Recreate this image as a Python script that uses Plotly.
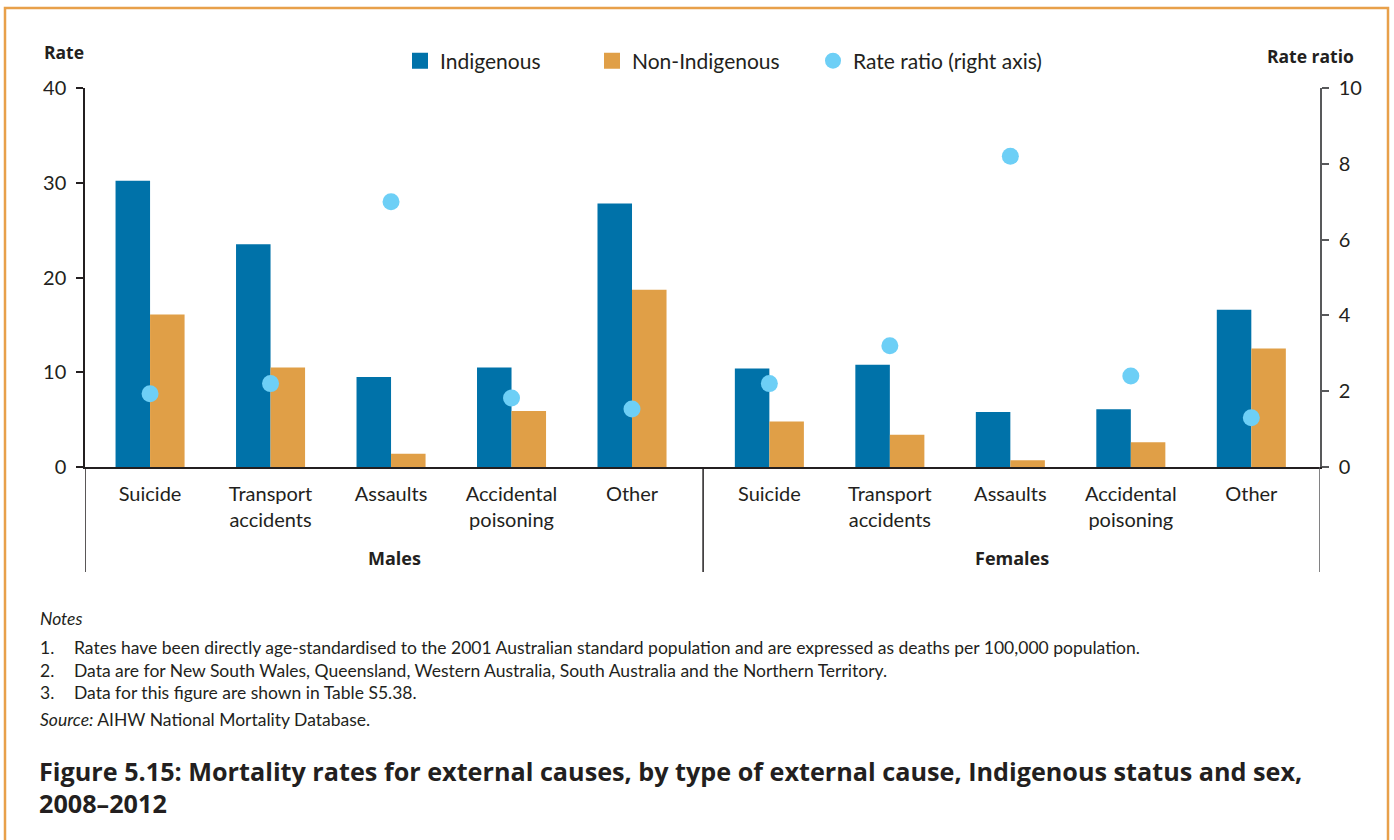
import plotly.graph_objects as go

# ---------------- data ----------------
groups = ["Males", "Females"]
causes = ["Suicide", "Transport<br>accidents", "Assaults", "Accidental<br>poisoning", "Other"]
indigenous_males = [30.2, 23.5, 9.5, 10.5, 27.8]
indigenous_females = [10.4, 10.8, 5.8, 6.1, 16.6]
non_indigenous_males = [16.1, 10.5, 1.4, 5.9, 18.7]
non_indigenous_females = [4.8, 3.4, 0.7, 2.6, 12.5]
ratio_males = [1.93, 2.2, 7.0, 1.82, 1.53]
ratio_females = [2.2, 3.2, 8.2, 2.4, 1.3]
left_ticks = [0, 10, 20, 30, 40]
right_ticks = [0, 2, 4, 6, 8, 10]

# ---------------- style ----------------
FONT = "Lato"
BFONT = "Open Sans"
C_IND = "#0072A9"
C_NON = "#E09F47"
C_RATIO = "#6DCFF6"
C_BORDER = "#E8A04A"
C_TEXT = "#231F20"
C_AXIS = "#231F20"
C_AXIS_R = "#58595B"
W, H = 1394, 840
ML, MR, MT, MB = 85, 74, 88, 373
PW, PH = W - ML - MR, H - MT - MB
GROUP_SHIFT = 5.14   # female group starts after a small gap
X_LEFT, X_RIGHT, X_DIV = -0.54, 9.71, 4.59


def px2x(px):
    return (px - ML) / PW


def py2y(py):
    return (H - MB - py) / PH


xs = [i for i in range(len(causes))] + [GROUP_SHIFT + i for i in range(len(causes))]
labels = causes + causes
ind = indigenous_males + indigenous_females
non = non_indigenous_males + non_indigenous_females
ratio = ratio_males + ratio_females

fig = go.Figure()
fig.add_trace(go.Bar(x=xs, y=ind, name="Indigenous", showlegend=False,
                     marker=dict(color=C_IND, line=dict(width=0))))
fig.add_trace(go.Bar(x=xs, y=non, name="Non-Indigenous", showlegend=False,
                     marker=dict(color=C_NON, line=dict(width=0))))
fig.add_trace(go.Scatter(x=xs, y=ratio, name="Rate ratio (right axis)", mode="markers", yaxis="y2",
                         legend="legend3", marker=dict(color=C_RATIO, size=17, line=dict(width=0))))
# legend swatches (square keys like the original)
fig.add_trace(go.Scatter(x=[None], y=[None], name="Indigenous", mode="markers", legend="legend",
                         marker=dict(symbol="square", color=C_IND, size=17, line=dict(width=0))))
fig.add_trace(go.Scatter(x=[None], y=[None], name="Non-Indigenous", mode="markers", legend="legend2",
                         marker=dict(symbol="square", color=C_NON, size=17, line=dict(width=0))))

leg_common = dict(orientation="h", xanchor="left", y=py2y(61), yanchor="middle",
                  font=dict(size=21, family=FONT, color=C_TEXT), bgcolor="rgba(0,0,0,0)")

fig.update_layout(
    width=W, height=H,
    margin=dict(l=ML, r=MR, t=MT, b=MB, pad=0),
    paper_bgcolor="white", plot_bgcolor="white",
    font=dict(family=FONT, size=20, color=C_TEXT),
    barmode="group", bargap=0.427, bargroupgap=0,
    showlegend=True,
    legend=dict(x=px2x(400), **leg_common),
    legend2=dict(x=px2x(592), **leg_common),
    legend3=dict(x=px2x(813), **leg_common),
    xaxis=dict(range=[X_LEFT, X_RIGHT], tickmode="array", tickvals=xs, ticktext=labels,
               showgrid=False, zeroline=False, showline=True, linecolor=C_AXIS, linewidth=1.5,
               ticks="", ticklabelstandoff=8, tickfont=dict(size=20, family=FONT)),
    yaxis=dict(range=[0, 40], tickmode="array", tickvals=left_ticks, showgrid=False, zeroline=False,
               showline=True, linecolor=C_AXIS, linewidth=1.5, ticks="outside", ticklen=7,
               tickcolor=C_AXIS, tickwidth=1.5, ticklabelstandoff=6, tickfont=dict(size=20, family=FONT)),
    yaxis2=dict(range=[0, 10], tickmode="array", tickvals=right_ticks, overlaying="y", side="right",
                showgrid=False, zeroline=False, showline=True, linecolor=C_AXIS_R, linewidth=1.5,
                ticks="outside", ticklen=7, tickcolor=C_AXIS_R, tickwidth=1.5, ticklabelstandoff=6,
                tickfont=dict(size=20, family=FONT)),
)

# dividers below the axis
for xv, col in [(X_LEFT, C_AXIS), (X_DIV, C_AXIS), (X_RIGHT, C_AXIS_R)]:
    fig.add_shape(type="line", xref="x", yref="paper", x0=xv, x1=xv, y0=0, y1=py2y(572),
                  line=dict(color=col, width=1.5), layer="above")

# outer border
fig.add_shape(type="rect", xref="paper", yref="paper", x0=px2x(5), x1=px2x(1388),
              y0=py2y(860), y1=py2y(8), line=dict(color=C_BORDER, width=2.5), fillcolor="rgba(0,0,0,0)")

ann = []
# axis titles
ann.append(dict(text="<b>Rate</b>", x=px2x(42), y=py2y(52), xanchor="left", yanchor="middle",
                font=dict(size=17.5, family=BFONT)))
ann.append(dict(text="<b>Rate ratio</b>", x=px2x(1356), y=py2y(56), xanchor="right", yanchor="middle",
                font=dict(size=17.5, family=BFONT)))
# group labels
for g, xv in zip(groups, [(X_LEFT + X_DIV) / 2, (X_DIV + X_RIGHT) / 2]):
    ann.append(dict(text="<b>" + g + "</b>", x=xv, xref="x", y=py2y(558), xanchor="center",
                    yanchor="middle", font=dict(size=18, family=BFONT)))

notes = [
    "Rates have been directly age-standardised to the 2001 Australian standard population and are expressed as deaths per 100,000 population.",
    "Data are for New South Wales, Queensland, Western Australia, South Australia and the Northern Territory.",
    "Data for this figure are shown in Table S5.38.",
]
NS = 17.5
ann.append(dict(text="<i>Notes</i>", x=px2x(38), y=py2y(618), xanchor="left", yanchor="middle",
                font=dict(size=NS, family=FONT)))
for k, (n, py) in enumerate(zip(notes, [647, 670, 692])):
    ann.append(dict(text=f"{k + 1}.", x=px2x(38), y=py2y(py), xanchor="left", yanchor="middle",
                    font=dict(size=NS, family=FONT)))
    ann.append(dict(text=n, x=px2x(72), y=py2y(py), xanchor="left", yanchor="middle",
                    font=dict(size=NS, family=FONT)))
ann.append(dict(text="<i>Source:</i> AIHW National Mortality Database.", x=px2x(38), y=py2y(719),
                xanchor="left", yanchor="middle", font=dict(size=NS, family=FONT)))
title_lines = ["Figure 5.15: Mortality rates for external causes, by type of external cause, Indigenous status and sex,",
               "2008–2012"]
for t, py in zip(title_lines, [771, 803]):
    ann.append(dict(text="<b>" + t + "</b>", x=px2x(37), y=py2y(py), xanchor="left", yanchor="middle",
                    font=dict(size=25.2, family=BFONT)))
for a in ann:
    a.setdefault("xref", "paper")
    a["yref"] = "paper"
    a["showarrow"] = False
fig.update_layout(annotations=ann)

fig.write_html("out.html", config={"displayModeBar": False},
               post_script="document.body.style.margin='0';document.body.style.overflow='hidden';")
